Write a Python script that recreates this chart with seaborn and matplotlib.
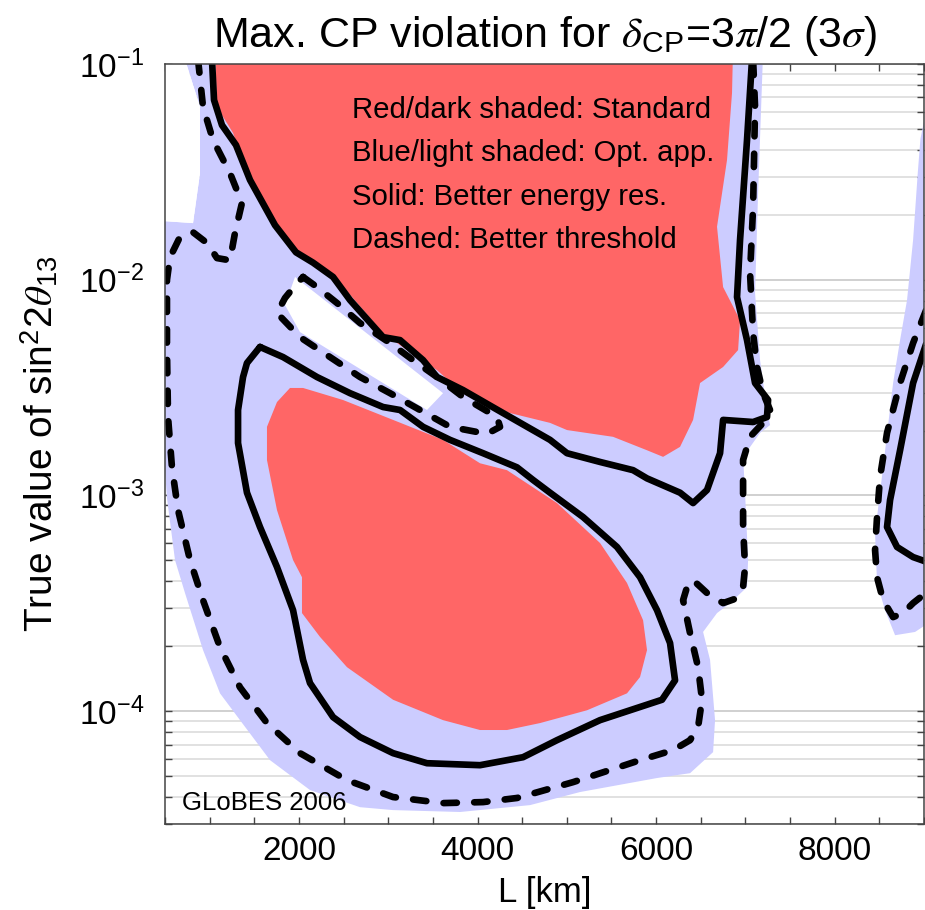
import matplotlib
matplotlib.use("Agg")
import matplotlib.pyplot as plt
import seaborn as sns
from matplotlib.ticker import LogLocator, MultipleLocator, FixedLocator, NullFormatter

# ---- regions (L in km, sin^2 2theta13) ----
# Blue / light shaded: optimized appearance channel
blue_L = [0, 814, 892, 892, 680, 7200, 7142, 7108, 7164, 7242, 7276, 7164, 6974, 6996,
          7030, 7018, 6828, 6682, 6526, 6604, 6660, 6638, 6380, 6010, 5148, 4588, 3804,
          3054, 2684, 2124, 1676, 1340, 1116, 926, 724, 612, 522, 495, 0]
blue_s = [0.0193, 0.0183, 0.0312, 0.0632, 0.12, 0.12, 0.0252, 0.00868, 0.00424, 0.00249,
          0.00212, 0.00195, 0.00151, 0.00103, 0.000502, 0.000376, 0.000317, 0.000285,
          0.000233, 0.000173, 9.09e-5, 6.46e-5, 5.16e-5, 4.90e-5, 4.22e-5, 3.67e-5,
          3.41e-5, 3.48e-5, 3.59e-5, 4.31e-5, 5.93e-5, 9.09e-5, 0.000121, 0.000192,
          0.000353, 0.000502, 0.000973, 0.0014, 0.0014]

blue_right_L = [9040, 8960, 8930, 8878, 8810, 8732, 8654, 8542, 8452, 8474, 8564, 8676,
                8900, 9068, 9400, 9400]
blue_right_s = [0.0650, 0.0450, 0.0312, 0.0153, 0.00805, 0.00525, 0.00332, 0.00135,
                0.000669, 0.000393, 0.000294, 0.000225, 0.000233, 0.000259, 0.000259,
                0.0650]

# uncovered corner and gap
corner_L = [0, 814, 892, 892, 680, 0]
corner_s = [0.0193, 0.0183, 0.0312, 0.0632, 0.12, 0.12]
gap_L = [1956, 1844, 2012, 3434, 3614]
gap_s = [0.0103, 0.00763, 0.00572, 0.00249, 0.00298]

# Red / dark shaded: standard setup
red_top_L = [1060, 1082, 1262, 1418, 1710, 1934, 2202, 2460, 2942, 3210, 3546, 3838,
             4364, 4812, 5002, 5518, 5898, 6078, 6268, 6414, 6492, 6750, 6918, 6940,
             6750, 6682, 6794, 6850, 6862]
red_top_s = [0.12, 0.0632, 0.0479, 0.0312, 0.0189, 0.0142, 0.0115, 0.00965, 0.00566,
             0.00472, 0.00381, 0.00298, 0.00241, 0.00217, 0.00201, 0.00187, 0.00162,
             0.00151, 0.00168, 0.00224, 0.00332, 0.00394, 0.00472, 0.00650, 0.00925,
             0.0176, 0.0359, 0.0734, 0.12]

red_low_L = [1900, 2046, 2494, 3054, 3614, 4028, 4330, 4890, 5372, 5674, 5854, 5898,
             5820, 5674, 5226, 4700, 4330, 4028, 3614, 3054, 2538, 2236, 2034, 2034,
             1934, 1754, 1642, 1642, 1754]
red_low_s = [0.00315, 0.00315, 0.00277, 0.00224, 0.00181, 0.00141, 0.00131, 0.000922,
             0.000602, 0.000393, 0.000264, 0.000192, 0.000144, 0.000121, 0.000101,
             8.81e-5, 8.18e-5, 8.18e-5, 9.09e-5, 0.000113, 0.000160, 0.000221, 0.000285,
             0.000418, 0.000502, 0.000856, 0.00146, 0.00208, 0.00271]

# Solid: better energy resolution
solid_a_L = [1026, 1049, 1138, 1295, 1452, 1732, 1967, 2158, 2382, 2572, 2942, 3132,
             3390, 3546, 3838, 4286, 4812, 5002, 5372, 5742, 5898, 6268, 6414, 6570,
             6716, 6750, 7086, 7242, 7254, 7108, 7018, 6906, 6940, 7018, 7074]
solid_a_s = [0.105, 0.0681, 0.0521, 0.0421, 0.0290, 0.0179, 0.0134, 0.0120, 0.0103,
             0.00805, 0.00542, 0.00525, 0.00424, 0.00354, 0.00308, 0.00241, 0.00181,
             0.00157, 0.00143, 0.00131, 0.00120, 0.00103, 0.000922, 0.00106, 0.00157,
             0.00224, 0.00219, 0.00231, 0.00277, 0.00332, 0.00525, 0.00831, 0.0153,
             0.0444, 0.105]

solid_b_L = [1564, 1822, 2202, 2572, 2942, 3132, 3390, 3692, 4062, 4442, 4622, 4812,
             5182, 5562, 5820, 6010, 6156, 6212, 6066, 5372, 4890, 4510, 4028, 3434,
             3054, 2684, 2382, 2124, 2046, 1934, 1754, 1564, 1418, 1318, 1318, 1374,
             1418, 1564]
solid_b_s = [0.00488, 0.00438, 0.00354, 0.00298, 0.00257, 0.00249, 0.00208, 0.00181,
             0.00157, 0.00135, 0.00118, 0.00103, 0.000794, 0.000577, 0.000418,
             0.000294, 0.000207, 0.000139, 0.000113, 9.09e-5, 7.34e-5, 6.12e-5,
             5.62e-5, 5.74e-5, 6.39e-5, 7.59e-5, 9.39e-5, 0.000135, 0.000173, 0.000294,
             0.000466, 0.000714, 0.00103, 0.00175, 0.00249, 0.00354, 0.00411, 0.00488]

solid_c_L = [9068, 8878, 8732, 8620, 8586, 8698, 8878, 9068]
solid_c_s = [0.00572, 0.00332, 0.00162, 0.000952, 0.000714, 0.000577, 0.000518, 0.000486]

# Dashed: better threshold
dash_a_L = [870, 926, 1038, 1228, 1362, 1284, 1228, 1082, 970, 814, 668, 556, 522, 522,
            534, 578, 646, 780, 926, 1116, 1340, 1642, 2012, 2538, 3054, 3614, 4062,
            4442, 5070, 5820, 6190, 6380, 6470, 6514, 6470, 6380, 6302, 6346, 6414,
            6570, 6750, 6906, 6974, 6996, 6974, 6974, 7052, 7198, 7276, 7198, 7130,
            7086, 7052, 7086, 7108, 7086]
dash_a_s = [0.105, 0.0632, 0.0444, 0.0312, 0.0227, 0.0165, 0.0123, 0.0126, 0.0148,
            0.0166, 0.0158, 0.0127, 0.00997, 0.00472, 0.00231, 0.00135, 0.000856,
            0.000502, 0.000327, 0.000198, 0.000129, 8.81e-5, 6.39e-5, 4.79e-5, 4.00e-5,
            3.75e-5, 3.79e-5, 3.96e-5, 4.69e-5, 5.93e-5, 6.60e-5, 7.34e-5, 8.44e-5,
            0.000113, 0.000160, 0.000230, 0.000327, 0.000376, 0.000405, 0.000353,
            0.000317, 0.000334, 0.000376, 0.000466, 0.000714, 0.00146, 0.00187,
            0.00217, 0.00249, 0.00298, 0.00394, 0.00566, 0.0107, 0.0217, 0.0632, 0.105]

dash_b_L = [2046, 2202, 2426, 2684, 3020, 3278, 3546, 3838, 4218, 4252, 4106, 3692,
            3356, 3020, 2684, 2348, 2012, 1754, 1844, 1934, 2046]
dash_b_s = [0.0103, 0.00925, 0.00780, 0.00630, 0.00509, 0.00424, 0.00354, 0.00286,
            0.00231, 0.00208, 0.00193, 0.00208, 0.00249, 0.00298, 0.00354, 0.00438,
            0.00542, 0.00701, 0.00823, 0.00915, 0.0103]

dash_c_L = [9068, 8878, 8732, 8586, 8508, 8474, 8452, 8474, 8542, 8654, 8766, 8878, 9090]
dash_c_s = [0.00805, 0.00509, 0.00332, 0.00195, 0.00122, 0.000794, 0.000558, 0.000418,
            0.000327, 0.000273, 0.000285, 0.000317, 0.000372]

x_major = [2000, 4000, 6000, 8000]
notes = ["Red/dark shaded: Standard", "Blue/light shaded: Opt. app.",
         "Solid: Better energy res.", "Dashed: Better threshold"]

# ---- figure ----
sns.set_theme(style="white")
plt.rcParams['font.family'] = ['Liberation Sans', 'DejaVu Sans']
plt.rcParams['mathtext.fontset'] = 'stix'
plt.rcParams['text.color'] = 'black'
plt.rcParams['axes.labelcolor'] = 'black'
plt.rcParams['xtick.color'] = 'black'
plt.rcParams['ytick.color'] = 'black'

BLUE = '#ccccff'
RED = '#ff6666'

fig = plt.figure(figsize=(9.25, 9.10), dpi=100)
ax = fig.add_axes([165 / 925, 1 - 824 / 910, 759 / 925, 760 / 910])
ax.set_yscale('log')
ax.set_xlim(500, 9000)
ax.set_ylim(3e-5, 0.1)

# horizontal log grid, beneath everything
for k in range(-5, 0):
    for m in range(1, 10):
        v = m * 10.0 ** k
        ax.axhline(v, color='#cdcdcd' if m == 1 else '#dedede', lw=1.3, zorder=0.3)

ax.fill(blue_L, blue_s, color=BLUE, lw=0, zorder=1)
ax.fill(blue_right_L, blue_right_s, color=BLUE, lw=0, zorder=1)
ax.fill(corner_L, corner_s, color='white', lw=0, zorder=1.1)
ax.fill(gap_L, gap_s, color='white', lw=0, zorder=1.1)
ax.fill(red_top_L, red_top_s, color=RED, lw=0, zorder=1.2)
ax.fill(red_low_L, red_low_s, color=RED, lw=0, zorder=1.2)

LW = 4.8
for xs, ys in [(solid_a_L, solid_a_s), (solid_b_L, solid_b_s), (solid_c_L, solid_c_s)]:
    sns.lineplot(x=xs, y=ys, sort=False, estimator=None, color='black', lw=LW,
                 solid_capstyle='round', solid_joinstyle='round', ax=ax, zorder=2)
for xs, ys in [(dash_a_L, dash_a_s), (dash_b_L, dash_b_s), (dash_c_L, dash_c_s)]:
    sns.lineplot(x=xs, y=ys, sort=False, estimator=None, color='black', lw=LW,
                 linestyle=(0, (2.0, 2.6)), dash_capstyle='round',
                 dash_joinstyle='round', ax=ax, zorder=2)

ax.set_xlim(500, 9000)
ax.set_ylim(3e-5, 0.1)

# ticks
ax.xaxis.set_major_locator(FixedLocator(x_major))
ax.xaxis.set_minor_locator(MultipleLocator(500))
ax.yaxis.set_major_locator(LogLocator(base=10))
ax.yaxis.set_minor_locator(LogLocator(base=10, subs=range(2, 10)))
ax.yaxis.set_minor_formatter(NullFormatter())
ax.tick_params(axis='both', which='both', direction='in', top=True, right=True,
               bottom=True, left=True, color='#444444', width=1.0, length=5)
ax.tick_params(axis='x', which='major', labelsize=24, pad=9, labelcolor='black')
ax.tick_params(axis='y', which='major', labelsize=24, pad=15, labelcolor='black')
for sp in ax.spines.values():
    sp.set_color('#444444')
    sp.set_linewidth(1.1)
    sp.set_zorder(3)
ax.grid(False)
ax.set_xlabel('')
ax.set_ylabel('')

# annotations
x0 = (352 - 165) / 759
for i, t in enumerate(notes):
    ax.text(x0, (824 - 118 - 43.3 * i) / 760, t, transform=ax.transAxes,
            fontsize=21.2, va='baseline', ha='left', color='black', zorder=4)
ax.text((182 - 165) / 759, (824 - 810) / 760, 'GLoBES 2006', transform=ax.transAxes,
        fontsize=18.5, va='baseline', ha='left', color='black', zorder=4)

fig.text(544.5 / 925, 1 - 47 / 910,
         r'Max. CP violation for $\delta_{\mathdefault{CP}}$=3$\pi$/2 (3$\sigma$)',
         fontsize=31, ha='center', va='baseline', color='black')
fig.text(544.5 / 925, 1 - 902 / 910, 'L [km]', fontsize=25, ha='center',
         va='baseline', color='black')
fig.text(40 / 925, 1 - 444 / 910,
         r'True value of sin$^{\mathdefault{2}}$2$\theta_{\mathdefault{13}}$',
         fontsize=28, rotation=90, ha='center', va='center', color='black')

fig.savefig('out.png', dpi=100)
